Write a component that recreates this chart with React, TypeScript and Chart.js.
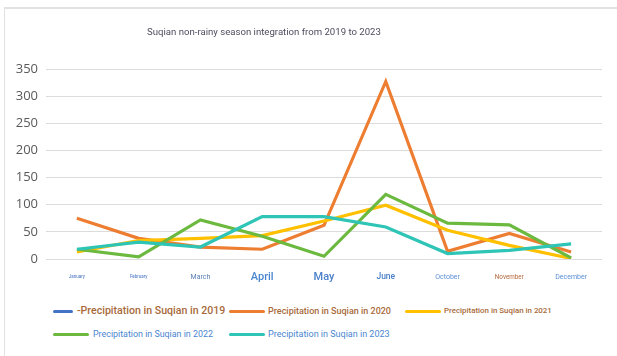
import React, { useEffect, useRef } from 'react';
import { Chart, registerables } from 'chart.js';

Chart.register(...registerables);

const months = ['January', 'February', 'March', 'April', 'May', 'June', 'October', 'November', 'December'];
const yTickValues = [0, 50, 100, 150, 200, 250, 300, 350];
const p2019: (number | null)[] = [null, null, null, null, null, null, null, null, null];
const p2020 = [75, 38, 22, 18, 62, 327, 14, 47, 13];
const p2021 = [13, 34, 38, 43, 70, 99, 53, 25, 1];
const p2022 = [18, 4, 72, 42, 5, 119, 66, 63, 2];
const p2023 = [18, 31, 22, 78, 78, 59, 10, 16, 28];
const seriesNames = [
  '-Precipitation in Suqian in 2019',
  'Precipitation in Suqian in 2020',
  'Precipitation in Suqian in 2021',
  'Precipitation in Suqian in 2022',
  'Precipitation in Suqian in 2023',
];

const seriesColors = ['#4472c4', '#ed7d31', '#ffc000', '#6cb93f', '#2ec4b6'];

const xLabelStyles = [
  { size: 4.5, weight: 400, color: '#4472c4' },
  { size: 4.5, weight: 400, color: '#4472c4' },
  { size: 7, weight: 400, color: '#5a7fb5' },
  { size: 11, weight: 500, color: '#4a86d0' },
  { size: 11, weight: 500, color: '#4a7fc9' },
  { size: 8.5, weight: 500, color: '#4a7fc9' },
  { size: 7, weight: 400, color: '#5b8fd6' },
  { size: 6.3, weight: 400, color: '#b5673c' },
  { size: 7, weight: 400, color: '#5b8fd6' },
];

const legendLayout = [
  { left: 53, top: 311, sw: 20, tx: 77, size: 10.6, weight: 500, color: '#a86a3a' },
  { left: 229, top: 311, sw: 36, tx: 268, size: 9, weight: 500, color: '#a86a3a' },
  { left: 405, top: 311, sw: 36, tx: 444, size: 7.9, weight: 500, color: '#a86a3a' },
  { left: 53, top: 334, sw: 36, tx: 93, size: 8.9, weight: 400, color: '#4a86d0' },
  { left: 229, top: 334, sw: 36, tx: 268, size: 9, weight: 400, color: '#4a86d0' },
];

const xLabelPlugin = {
  id: 'customXLabels',
  afterDraw(chart: any) {
    const xs = chart.scales.x;
    const ctx = chart.ctx;
    ctx.save();
    ctx.textAlign = 'center';
    ctx.textBaseline = 'middle';
    months.forEach((m, i) => {
      const st = xLabelStyles[i];
      ctx.font = `${st.weight} ${st.size}px Roboto`;
      ctx.fillStyle = st.color;
      ctx.fillText(m, xs.getPixelForTick(i), chart.chartArea.bottom + 18);
    });
    ctx.restore();
  },
};

export default function App() {
  const canvasRef = useRef<HTMLCanvasElement>(null);

  useEffect(() => {
    if (!canvasRef.current) return;
    const all = [p2019, p2020, p2021, p2022, p2023];
    const chart = new Chart(canvasRef.current, {
      type: 'line',
      data: {
        labels: months,
        datasets: all.map((d, i) => ({
          label: seriesNames[i],
          data: d,
          borderColor: seriesColors[i],
          backgroundColor: seriesColors[i],
          borderWidth: 3.2,
          pointRadius: 0,
          tension: 0,
          order: 5 - i,
        })),
      },
      options: {
        responsive: false,
        animation: false,
        layout: { padding: { left: 0, right: 15, top: 69, bottom: 0 } },
        plugins: {
          legend: { display: false },
          title: { display: false },
          tooltip: { enabled: false },
        },
        scales: {
          x: {
            offset: true,
            grid: { display: false },
            border: { display: false },
            ticks: { display: false },
            afterFit: (s: any) => {
              s.height = 31;
            },
          },
          y: {
            min: 0,
            max: 350,
            afterBuildTicks: (s: any) => {
              s.ticks = yTickValues.map((v) => ({ value: v }));
            },
            grid: { color: '#dcdcdc', lineWidth: 1, drawTicks: false },
            border: { display: false },
            ticks: {
              padding: 8,
              color: '#595959',
              font: { family: 'Open Sans', size: 13 },
            },
            afterFit: (s: any) => {
              s.width = 46;
            },
          },
        },
      },
      plugins: [xLabelPlugin],
    });
    return () => chart.destroy();
  }, []);

  return (
    <div style={{ position: 'fixed', left: 0, top: 0, width: 617, height: 356, background: '#fff', overflow: 'hidden' }}>
      <div
        style={{
          position: 'absolute',
          left: 4,
          top: 7,
          right: -2,
          bottom: -2,
          borderTop: '2px solid #e2e2e2',
          borderLeft: '1px solid #e2e2e2',
        }}
      />
      <canvas ref={canvasRef} width={617} height={290} style={{ position: 'absolute', left: 0, top: 0 }} />
      <div
        style={{
          position: 'absolute',
          left: 147,
          top: 31.5,
          transform: 'translateY(-50%)',
          fontFamily: 'Roboto',
          fontSize: 9.6,
          color: '#4d4d5f',
          whiteSpace: 'nowrap',
          lineHeight: 1,
        }}
      >
        Suqian non-rainy season integration from 2019 to 2023
      </div>
      {legendLayout.map((l, i) => (
        <React.Fragment key={i}>
          <div
            style={{
              position: 'absolute',
              left: l.left,
              top: l.top - 1.5,
              width: l.sw,
              height: 3,
              borderRadius: 1.5,
              background: seriesColors[i],
            }}
          />
          <div
            style={{
              position: 'absolute',
              left: l.tx,
              top: l.top,
              transform: 'translateY(-50%)',
              fontFamily: 'Roboto',
              fontSize: l.size,
              fontWeight: l.weight,
              color: l.color,
              whiteSpace: 'nowrap',
              lineHeight: 1,
            }}
          >
            {seriesNames[i]}
          </div>
        </React.Fragment>
      ))}
    </div>
  );
}
